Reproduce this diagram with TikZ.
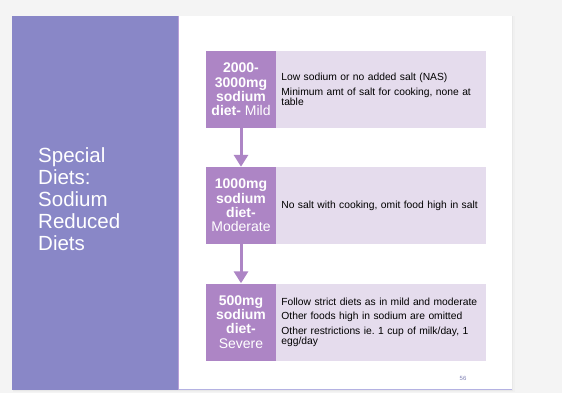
\documentclass[tikz,border=0pt]{standalone}
\usepackage{fontspec}
\setmainfont{Liberation Sans}
\usetikzlibrary{arrows.meta}
\frenchspacing
\definecolor{bgc}{HTML}{F4F4F4}
\definecolor{panelc}{HTML}{8987C7}
\definecolor{darkc}{HTML}{AD85C5}
\definecolor{lightc}{HTML}{E5DCED}
\definecolor{edgec}{HTML}{B8A0D8}
\definecolor{bottomc}{HTML}{B4B2E2}
\definecolor{numc}{HTML}{7F80B4}
\tikzset{
  darkbox/.style={fill=darkc, minimum width=70pt, minimum height=77pt, inner sep=0pt,
    text=white, align=center, font=\fontsize{14}{14.3}\selectfont},
  lightbox/.style={fill=lightc, minimum width=210pt, minimum height=77pt, inner xsep=5pt, inner ysep=0pt,
    text width=200pt, align=left, anchor=west, font=\fontsize{10.3}{10}\selectfont},
  flowarrow/.style={draw=darkc, line width=3pt, -{Triangle[width=14pt,length=12pt]}},
  titletext/.style={text=white, align=left, inner sep=0pt, anchor=north west,
    font=\fontsize{20.5}{22}\selectfont},
}
\begin{document}
\begin{tikzpicture}[x=1pt,y=-1pt]
\useasboundingbox (0,0) rectangle (562,393);
\fill[bgc] (0,0) rectangle (562,393);
% slide shadow and slide
\fill[black!6] (12.5,16.5) rectangle (514.5,391.5);
\fill[black!9] (12.5,16.5) rectangle (513.2,390.5);
\fill[white] (12,16) rectangle (512,389);
\draw[bottomc, line width=1.5pt] (178,389.5) -- (512,389.5);
% left panel
\fill[panelc] (12,16) rectangle (178,389.5);
\draw[edgec, line width=1pt] (178.5,16) -- (178.5,389.5);
\node[titletext] (title) at (38,147) {Special\\Diets:\\Sodium\\Reduced\\Diets};
% boxes
\node[darkbox] (d1) at (241,89.5) {\textbf{2000-}\\\textbf{3000mg}\\\textbf{sodium}\\\textbf{diet-} Mild};
\node[lightbox] (l1) at (d1.east) {Low sodium or no added salt (NAS)\\[5pt]Minimum amt of salt for cooking, none at\\table};
\node[darkbox] (d2) at (241,205.5) {\textbf{1000mg}\\\textbf{sodium}\\\textbf{diet-}\\Moderate};
\node[lightbox] (l2) at (d2.east) {No salt with cooking, omit food high in salt};
\node[darkbox] (d3) at (241,322) {\textbf{500mg}\\\textbf{sodium}\\\textbf{diet-}\\Severe};
\node[lightbox] (l3) at (d3.east) {Follow strict diets as in mild and moderate\\[4.5pt]Other foods high in sodium are omitted\\[4.5pt]Other restrictions ie. 1 cup of milk/day, 1\\egg/day};
% arrows
\draw[flowarrow] (d1.south) -- (d2.north);
\draw[flowarrow] (d2.south) -- (d3.north);
% page number
\node[text=numc, font=\fontsize{6}{6}\selectfont, inner sep=0pt] (pnum) at (463,378) {56};
\end{tikzpicture}
\end{document}
